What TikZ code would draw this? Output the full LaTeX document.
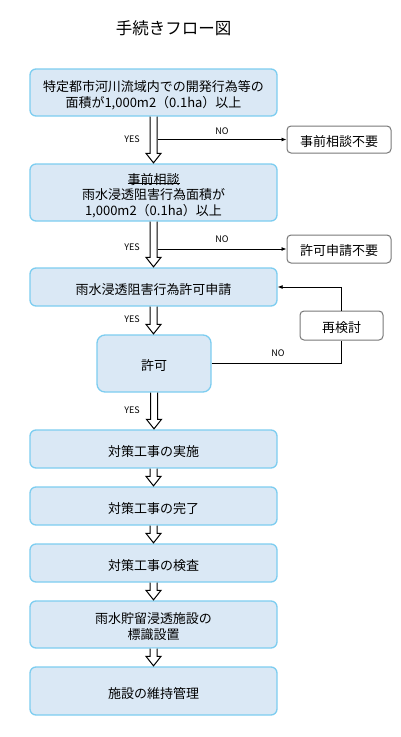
\documentclass[tikz,border=0pt]{standalone}
\usepackage{fontspec}
\setmainfont{Noto Sans CJK JP}
\usetikzlibrary{calc,arrows.meta}
\definecolor{bfill}{RGB}{218,232,245}
\definecolor{bline}{RGB}{125,205,240}
\definecolor{gline}{RGB}{120,120,120}
\tikzset{
  bluebox/.style={draw=bline, fill=bfill, line width=1.3pt, rounded corners=6pt,
    minimum width=247pt, inner sep=0pt, align=center, font=\fontsize{13}{15.5}\selectfont,
    text height=16pt, text depth=1.6pt},
  graybox/.style={draw=gline, fill=white, line width=1pt, rounded corners=4pt,
    inner sep=0pt, align=center, font=\fontsize{13}{15.5}\selectfont,
    text height=15pt, text depth=1.6pt},
  twolines/.style={text height=31.5pt},
  threelines/.style={text height=47pt},
  hollow/.style={draw=black, fill=white, line width=1pt, line join=miter},
  conn/.style={draw=black, line width=0.8pt, -{Latex[length=5pt,width=4pt]}},
  plain/.style={draw=black, line width=0.8pt},
  lbl/.style={font=\fontsize{9}{10}\selectfont, inner sep=0pt},
}
\newcommand{\harrow}[2]{%
  \draw[hollow] let \p1=(#1.south), \p2=(#2.north) in
    (\x1-3.5pt,\y1) -- (\x1-3.5pt,\y2+10pt) -- (\x1-7.5pt,\y2+10pt) -- (\x1,\y2+0.5pt)
    -- (\x1+7.5pt,\y2+10pt) -- (\x1+3.5pt,\y2+10pt) -- (\x1+3.5pt,\y1);}
\begin{document}
\begin{tikzpicture}[x=1pt,y=-1pt]
\useasboundingbox (0,0) rectangle (400,737);
\node[font=\fontsize{16.5}{18}\selectfont] (title) at (173.5,28) {手続きフロー図};

\node[bluebox, twolines, minimum height=47pt] (b1) at (153.5,92.5) {特定都市河川流域内での開発行為等の\\面積が1,000m2（0.1ha）以上};
\node[graybox, minimum width=104pt, minimum height=27pt] (n1) at (339,139.5) {事前相談不要};
\node[bluebox, threelines, minimum height=57pt] (b2) at (153.5,192.5) {事前相談\\雨水浸透阻害行為面積が\\1,000m2（0.1ha）以上};
\node[graybox, minimum width=104pt, minimum height=28pt] (n2) at (339,249) {許可申請不要};
\node[bluebox, minimum height=38pt] (b3) at (153.5,287) {雨水浸透阻害行為許可申請};
\node[bluebox, minimum width=114pt, minimum height=57pt, rounded corners=8pt] (b4) at (154,363.5) {許可};
\node[graybox, minimum width=83pt, minimum height=29pt] (r) at (341.5,325.5) {再検討};
\node[bluebox, minimum height=38pt] (b5) at (153.5,449) {対策工事の実施};
\node[bluebox, minimum height=38pt] (b6) at (153.5,506) {対策工事の完了};
\node[bluebox, minimum height=38pt] (b7) at (153.5,563) {対策工事の検査};
\node[bluebox, twolines, minimum height=47pt] (b8) at (153.5,624.5) {雨水貯留浸透施設の\\標識設置};
\node[bluebox, minimum height=48pt] (b9) at (153.5,691) {施設の維持管理};

% underline of 事前相談
\draw[line width=0.7pt] (b2.north) ++(-26,20) -- ++(52,0);

\harrow{b1}{b2}
\harrow{b2}{b3}
\harrow{b3}{b4}
\harrow{b4}{b5}
\harrow{b5}{b6}
\harrow{b6}{b7}
\harrow{b7}{b8}
\harrow{b8}{b9}

\draw[conn] (n1.west -| b1.south) ++(4,0) -- (n1.west);
\draw[conn] (n2.west -| b2.south) ++(4,0) -- (n2.west);
\draw[plain] (b4.east) -- (b4.east -| r.south) -- (r.south);
\draw[conn] (r.north) -- (r.north |- b3.east) -- (b3.east);

\node[lbl] (y1) at (132,139) {YES};
\node[lbl] (no1) at (222,131) {NO};
\node[lbl] (y2) at (132,247) {YES};
\node[lbl] (no2) at (222,239) {NO};
\node[lbl] (y3) at (132,319.5) {YES};
\node[lbl] (no3) at (278,353) {NO};
\node[lbl] (y4) at (132,410) {YES};
\end{tikzpicture}
\end{document}
